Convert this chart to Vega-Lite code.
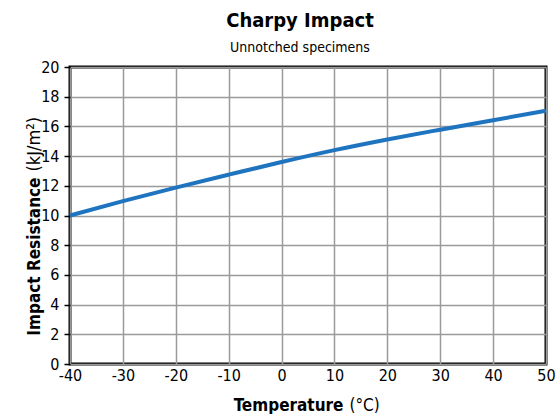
{
  "$schema": "https://vega.github.io/schema/vega-lite/v6.json",
  "width": 476,
  "height": 297,
  "autosize": "none",
  "padding": {"left": 70, "top": 67, "right": 13, "bottom": 50},
  "background": "white",
  "config": {
    "font": "DejaVu Sans Condensed, Roboto, sans-serif",
    "view": {"stroke": "black", "strokeWidth": 3}
  },
  "title": {
    "text": "Charpy Impact",
    "subtitle": "Unnotched specimens",
    "fontSize": 20,
    "fontWeight": "bold",
    "subtitleFontSize": 14,
    "subtitleColor": "black",
    "color": "black",
    "anchor": "middle",
    "offset": 4,
    "subtitlePadding": 10,
    "dx": -8
  },
  "data": {
    "values": [
      {"t": -40, "r": 10.0},
      {"t": -30, "r": 10.97},
      {"t": -20, "r": 11.88},
      {"t": -10, "r": 12.75},
      {"t": 0, "r": 13.6},
      {"t": 10, "r": 14.4},
      {"t": 20, "r": 15.12},
      {"t": 30, "r": 15.78},
      {"t": 40, "r": 16.42},
      {"t": 50, "r": 17.05}
    ]
  },
  "resolve": {"axis": {"x": "independent", "y": "independent"}},
  "layer": [
    {
      "mark": {"type": "line", "color": "#1f74c0", "strokeWidth": 4, "interpolate": "monotone"},
      "encoding": {
        "x": {
          "field": "t",
          "type": "quantitative",
          "scale": {"domain": [-40, 50], "nice": false, "zero": false},
          "axis": {
            "orient": "bottom",
            "title": "Temperature",
            "titleX": 273,
            "titleY": 46,
            "titleAlign": "right",
            "titleAnchor": null,
            "titleBaseline": "alphabetic",
            "values": [-40, -30, -20, -10, 0, 10, 20, 30, 40, 50],
            "labelExpr": "'' + datum.value",
            "labelFlush": false,
            "labelFontSize": 16,
            "labelColor": "black",
            "titleFontSize": 17,
            "titleColor": "black",
            "titleFontWeight": "bold",
            "labelPadding": 3,
            "tickSize": 0,
            "domain": false,
            "gridColor": "#9a9a9a",
            "gridWidth": 1.5,
            "gridOpacity": 1
          }
        },
        "y": {
          "field": "r",
          "type": "quantitative",
          "scale": {"domain": [0, 20], "nice": false},
          "axis": {
            "orient": "left",
            "title": "Impact Resistance",
            "titleX": -31,
            "titleY": 110,
            "titleAngle": -90,
            "titleAlign": "right",
            "titleAnchor": null,
            "titleBaseline": "alphabetic",
            "values": [0, 2, 4, 6, 8, 10, 12, 14, 16, 18, 20],
            "labelFlush": false,
            "labelFontSize": 16,
            "labelColor": "black",
            "titleFontSize": 17,
            "titleColor": "black",
            "titleFontWeight": "bold",
            "labelPadding": 5,
            "tickSize": 6,
            "tickColor": "black",
            "tickWidth": 1.5,
            "domain": false,
            "gridColor": "#9a9a9a",
            "gridWidth": 1.5,
            "gridOpacity": 1
          }
        }
      }
    },
    {
      "mark": {"type": "line", "opacity": 0},
      "encoding": {
        "x": {
          "field": "t",
          "type": "quantitative",
          "scale": {"domain": [-40, 50], "nice": false, "zero": false},
          "axis": {
            "orient": "bottom",
            "title": "(°C)",
            "titleX": 279,
            "titleY": 46,
            "titleAlign": "left",
            "titleAnchor": null,
            "titleBaseline": "alphabetic",
            "titleFontSize": 17,
            "titleColor": "black",
            "titleFontWeight": "normal",
            "labels": false,
            "ticks": false,
            "domain": false,
            "grid": false
          }
        },
        "y": {
          "field": "r",
          "type": "quantitative",
          "scale": {"domain": [0, 20], "nice": false},
          "axis": {
            "orient": "left",
            "title": "(kJ/m²)",
            "titleX": -31,
            "titleY": 104,
            "titleAngle": -90,
            "titleAlign": "left",
            "titleAnchor": null,
            "titleBaseline": "alphabetic",
            "titleFontSize": 18,
            "titleColor": "black",
            "titleFontWeight": "normal",
            "labels": false,
            "ticks": false,
            "domain": false,
            "grid": false
          }
        }
      }
    }
  ]
}
